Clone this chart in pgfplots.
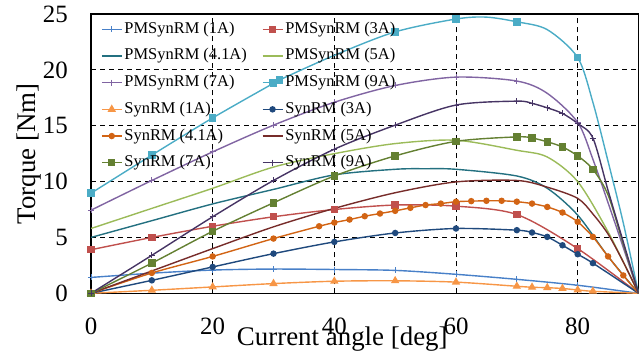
\documentclass[border=0pt]{standalone}
\usepackage{fontspec}
\setmainfont{Liberation Serif}
\usepackage{pgfplots}
\pgfplotsset{compat=1.18}
\definecolor{cA}{RGB}{72,128,200}
\definecolor{cB}{RGB}{192,80,77}
\definecolor{cC}{RGB}{35,112,128}
\definecolor{cD}{RGB}{155,187,89}
\definecolor{cE}{RGB}{128,100,162}
\definecolor{cF}{RGB}{75,172,198}
\definecolor{cG}{RGB}{247,150,70}
\definecolor{cH}{RGB}{31,73,125}
\definecolor{cI}{RGB}{210,100,20}
\definecolor{cJ}{RGB}{119,44,42}
\definecolor{cK}{RGB}{100,128,50}
\definecolor{cL}{RGB}{70,52,100}
\begin{document}
\begin{tikzpicture}
\useasboundingbox (0,0) rectangle (641bp,358bp);
\begin{axis}[
 at={(91bp,64.7bp)}, anchor=south west,
 scale only axis, width=547.5bp, height=279.3bp,
 xmin=0, xmax=90, ymin=0, ymax=25,
 xtick={0,20,40,60,80}, ytick={0,5,10,15,20,25},
 grid=major,
 major grid style={black, dash pattern=on 5bp off 4bp, line width=1bp},
 axis line style={black, line width=1.3bp},
 major tick length=0pt,
 /pgf/number format/assume math mode=true,
 every x tick label/.append style={font=\fontsize{25}{25}\selectfont, inner sep=0pt, anchor=north, yshift=-24bp},
 every y tick label/.append style={font=\fontsize{25}{25}\selectfont, inner sep=0pt, anchor=east, xshift=-23bp},
 xlabel={Current angle [deg]}, ylabel={Torque [Nm]},
 label style={font=\fontsize{27}{27}\selectfont},
 xlabel style={at={(axis description cs:0.459,-0.186)}, anchor=base, inner sep=0pt},
 ylabel style={at={(axis description cs:-0.102,0.5)}, anchor=base, inner sep=0pt},
 legend columns=2,
 legend cell align=left,
 legend style={at={(rel axis cs:0.018,0.973)}, anchor=north west, draw=none, fill=none,
   inner sep=0pt, font=\fontsize{16.5}{16.5}\selectfont,
   nodes={inner sep=0pt, text height=11.5bp, text depth=3.5bp},
   row sep=11.7bp,
   /tikz/every odd column/.append style={column sep=2bp},
   /tikz/every even column/.append style={column sep=15bp}},
 legend image code/.code={\draw[mark=none] (0bp,0bp) -- (20bp,0bp); \draw plot coordinates {(10bp,0bp)};},
 every axis plot/.append style={line width=1.4bp, smooth, tension=0.5},
]
% PMSynRM (1A)
\addplot[cA, mark=+, mark size=3bp, mark options={line width=1bp}, mark indices={1,2,3,4,5,6,7,8,9}] coordinates {
(0,1.42)(10,1.8)(20,2.08)(30,2.17)(40,2.13)(50,2.05)(60,1.7)(70,1.25)(80,0.72)(90,0)};
\addlegendentry{PMSynRM (1A)}
% PMSynRM (3A)
\addplot[cB, mark=square*, mark size=3bp, mark indices={1,2,3,4,5,6,7,8,9}] coordinates {
(0,3.9)(10,5.0)(20,6.0)(30,6.85)(40,7.5)(50,7.9)(60,7.8)(70,7.05)(80,4.0)(90,0)};
\addlegendentry{PMSynRM (3A)}
% PMSynRM (4.1A)
\addplot[cC] coordinates {
(0,5.0)(10,6.5)(20,8.0)(30,9.3)(40,10.6)(50,11.1)(55,11.15)(60,11.1)(70,10.5)(75,9.4)(80,7.0)(85,3.3)(90,0)};
\addlegendentry{PMSynRM (4.1A)}
% PMSynRM (5A)
\addplot[cD] coordinates {
(0,5.8)(10,7.6)(20,9.4)(30,11.3)(40,12.5)(50,13.4)(60,13.7)(70,12.8)(75,12.2)(80,10.0)(85,5.5)(90,0)};
\addlegendentry{PMSynRM (5A)}
% PMSynRM (7A)
\addplot[cE, mark=+, mark size=3bp, mark options={line width=1bp}, mark indices={1,2,3,4,5,6,7,8,10}] coordinates {
(0,7.44)(10,10.1)(20,12.66)(30,15.05)(40,17.1)(50,18.6)(60,19.35)(70,19.0)(75,17.9)(80,15.3)(82.5,12.0)(85,8.1)(87.5,4.1)(90,0)};
\addlegendentry{PMSynRM (7A)}
% PMSynRM (9A)
\addplot[cF, mark=square*, mark size=3bp, mark indices={1,2,3,4,5,7,8,10,12}] coordinates {
(0,8.96)(10,12.37)(20,15.7)(30,18.8)(31,19.1)(40,21.3)(50,23.4)(60,24.55)(65,24.72)(70,24.3)(75,23.6)(80,21.1)(82.5,17.1)(85,11.8)(87.5,6.3)(90,0)};
\addlegendentry{PMSynRM (9A)}
% SynRM (1A)
\addplot[cG, mark=triangle*, mark size=3.5bp, mark indices={1,2,3,4,5,6,7,8,9,10,11,12,13}] coordinates {
(0,0)(10,0.27)(20,0.57)(30,0.87)(40,1.08)(50,1.12)(60,1.0)(70,0.63)(72.5,0.54)(75,0.5)(77.5,0.43)(80,0.3)(82.5,0.18)(90,0)};
\addlegendentry{SynRM (1A)}
% SynRM (3A)
\addplot[cH, mark=*, mark size=2.5bp, mark indices={1,2,3,4,5,6,7,8,9,10,11,12,13}] coordinates {
(0,0)(10,1.16)(20,2.36)(30,3.55)(40,4.6)(50,5.4)(60,5.8)(70,5.65)(72.5,5.44)(75,5.05)(77.5,4.3)(80,3.5)(82.5,2.7)(90,0)};
\addlegendentry{SynRM (3A)}
% SynRM (4.1A)
\addplot[cI, mark=*, mark size=2.5bp, mark indices={1,2,3,4,5,6,7,8,9,10,11,12,13,14,15,16,17,18,19,20,21,22,23,24,25}] coordinates {
(0,0)(10,1.82)(20,3.3)(30,4.9)(37.5,6.0)(40,6.33)(42.5,6.6)(45,6.9)(47.5,7.14)(50,7.38)(52.5,7.65)(55,7.9)(57.5,8.03)(60,8.2)(62.5,8.25)(65,8.28)(67.5,8.28)(70,8.2)(72.5,8.03)(75,7.73)(77.5,7.23)(80,6.4)(82.5,5.05)(85,3.3)(87.5,1.6)(90,0)};
\addlegendentry{SynRM (4.1A)}
% SynRM (5A)
\addplot[cJ] coordinates {
(0,0)(10,2.0)(20,4.0)(30,5.95)(40,7.6)(50,9.0)(60,9.97)(70,10.1)(75,9.5)(80,8.5)(82.5,7.1)(85,5.3)(87.5,2.8)(90,0)};
\addlegendentry{SynRM (5A)}
% SynRM (7A)
\addplot[cK, mark=square*, mark size=3bp, mark indices={1,2,3,4,5,6,7,8,9,10,11,12,13}] coordinates {
(0,0)(10,2.7)(20,5.55)(30,8.1)(40,10.5)(50,12.3)(60,13.6)(70,14.0)(72.5,13.9)(75,13.56)(77.5,13.1)(80,12.3)(82.5,11.1)(85,8.8)(87.5,4.4)(90,0)};
\addlegendentry{SynRM (7A)}
% SynRM (9A)
\addplot[cL, mark=+, mark size=3bp, mark options={line width=1bp}, mark indices={1,2,3,4,5,6,7,8,9,10,11,12,13}] coordinates {
(0,0)(10,3.4)(20,6.85)(30,10.1)(40,12.9)(50,15.05)(60,16.85)(70,17.2)(72.5,17.0)(75,16.6)(77.5,16.1)(80,15.2)(82.5,13.9)(85,9.2)(87.5,4.6)(90,0)};
\addlegendentry{SynRM (9A)}
\end{axis}
\end{tikzpicture}
\end{document}
